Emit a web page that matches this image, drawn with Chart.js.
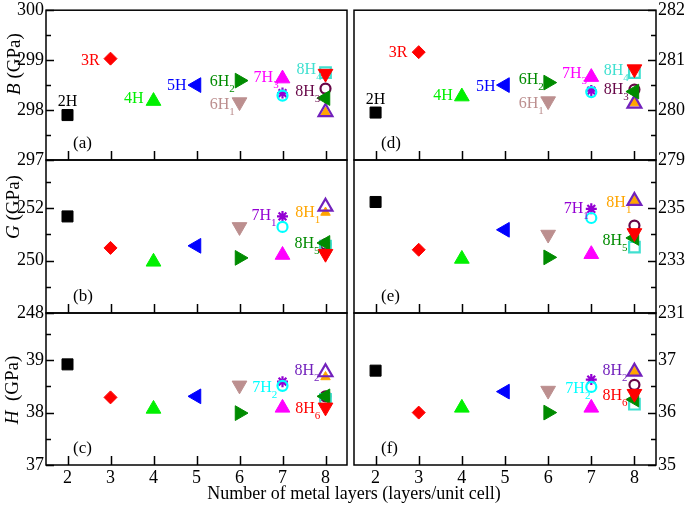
<!DOCTYPE html>
<html>
<head>
<meta charset="utf-8">
<script src="https://cdn.jsdelivr.net/npm/chart.js@4.4.1/dist/chart.umd.min.js"></script>
<style>
  body { margin: 0; background: #fff; width: 685px; height: 505px; overflow: hidden; position: relative;
         font-family: "Liberation Serif", "Times New Roman", serif; }
  canvas { position: absolute; left: 0; top: 0; }
  .yt { position: absolute; transform: translate(-50%, -50%) rotate(-90deg); white-space: nowrap;
        font-size: 19px; line-height: 1; color: #000; }
  #xt { position: absolute; left: 354px; top: 483px; transform: translateX(-50%); white-space: nowrap;
        font-size: 18px; line-height: 20px; color: #000; }
</style>
</head>
<body>
<canvas id="pa" width="685" height="505"></canvas>
<canvas id="pb" width="685" height="505"></canvas>
<canvas id="pc" width="685" height="505"></canvas>
<canvas id="pd" width="685" height="505"></canvas>
<canvas id="pe" width="685" height="505"></canvas>
<canvas id="pf" width="685" height="505"></canvas>
<div class="yt" style="left:13px;top:64px"><i>B</i> (GPa)</div>
<div class="yt" style="left:12px;top:207px"><i>G</i> (GPa)</div>
<div class="yt" style="left:11px;top:390px"><i>H</i>&nbsp;&nbsp;(GPa)</div>
<div id="xt">Number of metal layers (layers/unit cell)</div>
<script>
(function () {
  'use strict';

  // structures and their number of layers
  var names = ['2H', '3R', '4H', '5H', '6H1', '6H2', '7H1', '7H2', '7H3', '8H1', '8H2', '8H3', '8H4', '8H5', '8H6'];
  var layers = [2, 3, 4, 5, 6, 6, 7, 7, 7, 8, 8, 8, 8, 8, 8];

  // moduli (GPa), left column and right column
  var bLeft = [297.90, 299.03, 298.18, 298.50, 298.16, 298.59, 298.34, 298.29, 298.63, 297.95, 297.96, 298.43, 298.75, 298.24, 298.73];
  var gLeft = [251.68, 250.48, 249.95, 250.56, 251.28, 250.10, 251.68, 251.28, 250.21, 251.83, 252.05, 250.62, 250.55, 250.67, 250.26];
  var hLeft = [38.92, 38.29, 38.07, 38.31, 38.52, 37.99, 38.59, 38.51, 38.09, 38.68, 38.77, 38.31, 38.25, 38.31, 38.10];
  var bRight = [279.95, 281.16, 280.27, 280.50, 280.18, 280.55, 280.39, 280.36, 280.66, 280.14, 280.13, 280.41, 280.75, 280.37, 280.82];
  var gRight = [235.23, 233.41, 233.06, 234.17, 233.99, 233.12, 234.97, 234.62, 233.24, 235.28, 235.27, 234.33, 233.51, 233.86, 234.05];
  var hRight = [36.80, 36.00, 36.09, 36.40, 36.42, 36.00, 36.63, 36.49, 36.09, 36.78, 36.78, 36.53, 36.16, 36.25, 36.36];

  // tick labels
  var xTicks = [2, 3, 4, 5, 6, 7, 8];
  var bTicksLeft = [297, 298, 299, 300];
  var gTicksLeft = [248, 250, 252];
  var hTicksLeft = [37, 38, 39];
  var bTicksRight = [279, 280, 281, 282];
  var gTicksRight = [231, 233, 235];
  var hTicksRight = [35, 36, 37];

  // point labels: [text, x, y, align]
  var labelsA = [['2H', 2, 298.08, 'center'], ['3R', 2.75, 298.91], ['4H', 3.77, 298.14], ['5H', 4.77, 298.41],
    ['6H2', 5.89, 298.49], ['6H1', 5.89, 298.02], ['7H3', 6.91, 298.57], ['8H4', 7.91, 298.73], ['8H3', 7.88, 298.29]];
  var labelsB = [['7H1', 6.86, 251.55], ['8H1', 7.88, 251.67], ['8H5', 7.86, 250.49]];
  var labelsC = [['7H2', 6.88, 38.39], ['8H2', 7.86, 38.71], ['8H6', 7.88, 37.99]];
  var labelsD = [['2H', 2, 280.12, 'center'], ['3R', 2.74, 281.06], ['4H', 3.79, 280.20], ['5H', 4.78, 280.38],
    ['6H2', 5.9, 280.52], ['6H1', 5.9, 280.04], ['7H3', 6.9, 280.65], ['8H4', 7.87, 280.71], ['8H3', 7.87, 280.32]];
  var labelsE = [['7H1', 6.94, 234.82], ['8H1', 7.93, 235.05], ['8H5', 7.84, 233.60]];
  var labelsF = [['7H2', 6.98, 36.37], ['8H2', 7.84, 36.71], ['8H6', 7.84, 36.24]];

  var markers = {
    '2H': { c: '#000000', s: 'rect', r: 7.8 },
    '3R': { c: '#ff0000', s: 'rectRot', r: 6.5 },
    '4H': { c: '#00f000', s: 'triangle', r: 8.5 },
    '5H': { c: '#0000ff', s: 'triangle', r: 8.5, rot: 270 },
    '6H1': { c: '#bc8f8f', s: 'triangle', r: 8.5, rot: 180 },
    '6H2': { c: '#008b00', s: 'triangle', r: 8.5, rot: 90 },
    '7H1': { c: '#9400d3', s: 'star', r: 5.5, open: true },
    '7H2': { c: '#00ffff', s: 'circle', r: 5, open: true },
    '7H3': { c: '#ff00ff', s: 'triangle', r: 8.5 },
    '8H1': { c: '#ffa500', s: 'triangle', r: 5.5 },
    '8H2': { c: '#7221bc', s: 'triangle', r: 8, open: true },
    '8H3': { c: '#670748', s: 'circle', r: 5, open: true },
    '8H4': { c: '#40e0d0', s: 'rect', r: 7.5, open: true },
    '8H5': { c: '#008b00', s: 'triangle', r: 8.5, rot: 270 },
    '8H6': { c: '#ff0000', s: 'triangle', r: 8.5, rot: 180 }
  };

  var FONT = '"Liberation Serif", "Times New Roman", serif';
  var W = 685, H = 505;
  var rowTop = [7, 160, 313], rowBottom = [160, 313, 465];

  Chart.defaults.font.family = FONT;

  function drawLabel(ctx, px, py, text, color, align) {
    var m = /^(\d[HR])(\d?)$/.exec(text);
    var main = m[1], sub = m[2];
    ctx.font = '16px ' + FONT;
    var w1 = ctx.measureText(main).width;
    ctx.font = '11px ' + FONT;
    var w2 = sub ? ctx.measureText(sub).width : 0;
    var x0 = align === 'center' ? px - (w1 + w2) / 2 : px - w1 - w2;
    ctx.fillStyle = color;
    ctx.textAlign = 'left';
    ctx.textBaseline = 'alphabetic';
    ctx.font = '16px ' + FONT;
    ctx.fillText(main, x0, py);
    if (sub) {
      ctx.font = '11px ' + FONT;
      ctx.fillText(sub, x0 + w1, py + 6);
    }
  }

  function makePanel(p) {
    var left = p.col === 0;
    var bottom = p.row === 2;
    var area = { l: left ? 46 : 354, r: left ? 347 : 656, t: rowTop[p.row], b: rowBottom[p.row] };
    var yw = left ? area.l : W - area.r;
    var xh = bottom ? 34 : 0;

    var deco = {
      id: 'deco',
      afterDatasetsDraw: function (chart) {
        var ctx = chart.ctx, a = chart.chartArea, xs = chart.scales.x, ys = chart.scales.y;
        ctx.save();
        p.labels.forEach(function (l) {
          drawLabel(ctx, xs.getPixelForValue(l[1]), ys.getPixelForValue(l[2]), l[0], markers[l[0]].c, l[3]);
        });
        ctx.fillStyle = '#000';
        ctx.font = '17px ' + FONT;
        ctx.textAlign = 'left';
        ctx.fillText(p.letter, a.left + 27, a.bottom - 12);

        ctx.strokeStyle = '#000';
        ctx.lineWidth = 1.5;
        ctx.strokeRect(a.left, a.top, a.right - a.left, a.bottom - a.top);
        ctx.beginPath();
        xTicks.forEach(function (v) {
          var px = Math.round(xs.getPixelForValue(v)) + 0.5;
          ctx.moveTo(px, a.bottom);
          ctx.lineTo(px, a.bottom - 9);
        });
        var step = p.ticks[1] - p.ticks[0];
        var minor = [];
        p.ticks.forEach(function (v) {
          [v - step / 2, v + step / 2].forEach(function (m) {
            if (m >= ys.min && m <= ys.max && minor.indexOf(m) < 0) minor.push(m);
          });
        });
        var edge = left ? a.left : a.right, dir = left ? 1 : -1;
        p.ticks.forEach(function (v) {
          var py = Math.round(ys.getPixelForValue(v)) + 0.5;
          ctx.moveTo(edge, py);
          ctx.lineTo(edge + dir * 8, py);
        });
        minor.forEach(function (v) {
          var py = Math.round(ys.getPixelForValue(v)) + 0.5;
          ctx.moveTo(edge, py);
          ctx.lineTo(edge + dir * 5, py);
        });
        ctx.stroke();
        ctx.restore();
      }
    };

    new Chart(document.getElementById(p.id), {
      type: 'scatter',
      data: {
        datasets: names.map(function (n, i) {
          var mk = markers[n];
          return {
            label: n,
            data: [{ x: layers[i], y: p.values[i] }],
            pointStyle: mk.s,
            pointRadius: mk.r,
            pointRotation: mk.rot || 0,
            pointBackgroundColor: mk.open ? 'rgba(0,0,0,0)' : mk.c,
            pointBorderColor: mk.c,
            pointBorderWidth: mk.open ? 2.2 : 1,
            order: -i
          };
        })
      },
      options: {
        responsive: false,
        animation: false,
        events: [],
        layout: {
          padding: {
            left: left ? 0 : area.l,
            right: left ? W - area.r : 0,
            top: area.t,
            bottom: H - area.b - xh
          }
        },
        plugins: { legend: { display: false }, tooltip: { enabled: false } },
        scales: {
          x: {
            type: 'linear', min: 1.5, max: 8.5, display: bottom,
            grid: { display: false, drawTicks: false }, border: { display: false },
            ticks: { color: '#000', font: { size: 18 }, padding: 2, maxRotation: 0 },
            afterBuildTicks: function (s) { s.ticks = xTicks.map(function (v) { return { value: v }; }); },
            afterFit: function (s) { s.height = xh; s.paddingLeft = 0; s.paddingRight = 0; }
          },
          y: {
            type: 'linear', min: p.min, max: p.max, position: left ? 'left' : 'right',
            grid: { display: false, drawTicks: false }, border: { display: false },
            ticks: { color: '#000', font: { size: 18 }, padding: 2 },
            afterBuildTicks: function (s) { s.ticks = p.ticks.map(function (v) { return { value: v }; }); },
            afterFit: function (s) { s.width = yw; s.paddingTop = 0; s.paddingBottom = 0; }
          }
        }
      },
      plugins: [deco]
    });
  }

  makePanel({ id: 'pa', col: 0, row: 0, values: bLeft, ticks: bTicksLeft, min: 297, max: 300, labels: labelsA, letter: '(a)' });
  makePanel({ id: 'pb', col: 0, row: 1, values: gLeft, ticks: gTicksLeft, min: 248, max: 253.83, labels: labelsB, letter: '(b)' });
  makePanel({ id: 'pc', col: 0, row: 2, values: hLeft, ticks: hTicksLeft, min: 37, max: 39.9, labels: labelsC, letter: '(c)' });
  makePanel({ id: 'pd', col: 1, row: 0, values: bRight, ticks: bTicksRight, min: 279, max: 282, labels: labelsD, letter: '(d)' });
  makePanel({ id: 'pe', col: 1, row: 1, values: gRight, ticks: gTicksRight, min: 231, max: 236.83, labels: labelsE, letter: '(e)' });
  makePanel({ id: 'pf', col: 1, row: 2, values: hRight, ticks: hTicksRight, min: 35, max: 37.9, labels: labelsF, letter: '(f)' });
})();
</script>
</body>
</html>
